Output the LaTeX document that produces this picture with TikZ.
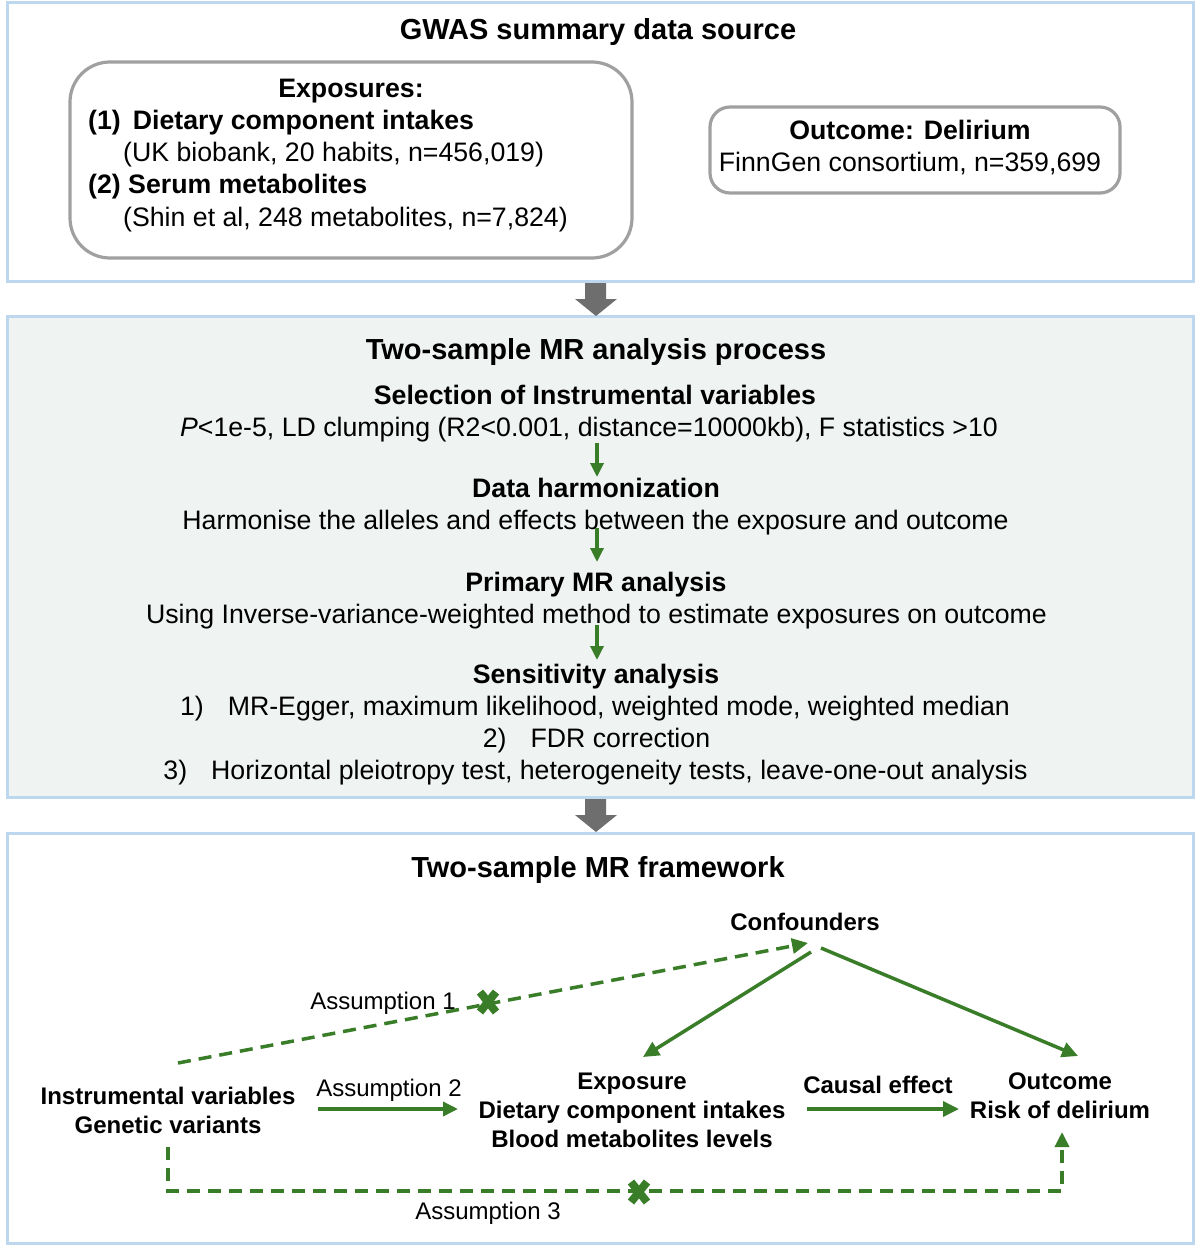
\documentclass[tikz,border=0pt]{standalone}
\usepackage{fontspec}
\setmainfont{Liberation Sans}
\usetikzlibrary{arrows.meta}
\definecolor{panelborder}{RGB}{189,215,238}
\definecolor{panelfill}{RGB}{239,243,242}
\definecolor{mrgreen}{RGB}{58,125,40}
\definecolor{boxgray}{RGB}{160,160,160}
\definecolor{bigarrow}{RGB}{110,110,110}
\tikzset{
  panel/.style={draw=panelborder, line width=3pt},
  titletxt/.style={inner sep=0pt, anchor=base, font=\bfseries\fontsize{29}{34}\selectfont},
  headtxt/.style={inner sep=0pt, anchor=base, font=\bfseries\fontsize{26.7}{32}\selectfont},
  bodytxt/.style={inner sep=0pt, anchor=base, font=\fontsize{26.7}{32}\selectfont},
  fwbold/.style={inner sep=0pt, anchor=base, font=\bfseries\fontsize{24}{29}\selectfont},
  fwtxt/.style={inner sep=0pt, anchor=base, font=\fontsize{24}{29}\selectfont},
  grayarrow/.style={fill=bigarrow, draw=none},
  flowarrow/.style={draw=mrgreen, line width=3.3pt, -{Triangle[length=14pt,width=13pt]}},
  fwarrow/.style={draw=mrgreen, line width=3.5pt, -{Triangle[length=16pt,width=15pt]}},
  dasharrow/.style={draw=mrgreen, line width=3.5pt, dash pattern=on 13pt off 8pt},
  crossmark/.style={draw=mrgreen, line width=8pt},
}
\begin{document}
\begin{tikzpicture}[x=1pt,y=-1pt]
\useasboundingbox (0,0) rectangle (1200,1249);
% panels
\draw[panel, fill=white] (7,3) rectangle (1193,281);
\draw[panel, fill=panelfill] (7,316) rectangle (1193,797);
\draw[panel, fill=white] (7,833) rectangle (1193,1243);
% big gray arrows
\fill[grayarrow] (585,283) -- (606,283) -- (606,299) -- (617,299) -- (596,316) -- (575,299) -- (585,299) -- cycle;
\fill[grayarrow] (585,799) -- (606,799) -- (606,815) -- (617,815) -- (596,832) -- (575,815) -- (585,815) -- cycle;

% ---------- panel 1 ----------
\node[titletxt] (t1) at (598,40) {GWAS summary data source};
\draw[draw=boxgray, line width=3.2pt, rounded corners=40pt] (70,62) rectangle (632,258);
\node[headtxt] (exph) at (351,98) {Exposures:};
\node[headtxt, anchor=base west] (exp1) at (88,130) {(1)\hspace{0.45em}Dietary component intakes};
\node[bodytxt, anchor=base west] (exp1s) at (123,162) {(UK biobank, 20 habits, n=456,019)};
\node[headtxt, anchor=base west] (exp2) at (88,194) {(2) Serum metabolites};
\node[bodytxt, anchor=base west] (exp2s) at (123,226) {(Shin et al, 248 metabolites, n=7,824)};
\draw[draw=boxgray, line width=3.2pt, rounded corners=20pt] (710,107) rectangle (1120,193);
\node[headtxt] (outh) at (910,140) {Outcome: Delirium};
\node[bodytxt] (outs) at (910,172) {FinnGen consortium, n=359,699};

% ---------- panel 2 ----------
\node[titletxt] (t2) at (596,359) {Two-sample MR analysis process};
\node[headtxt] (s1h) at (595,404) {Selection of Instrumental variables};
\node[bodytxt] (s1b) at (589,436) {\textit{P}<1e-5, LD clumping (R2<0.001, distance=10000kb), F statistics >10};
\node[headtxt] (s2h) at (596,497) {Data harmonization};
\node[bodytxt] (s2b) at (595.5,529) {Harmonise the alleles and effects between the exposure and outcome};
\node[headtxt] (s3h) at (596,591) {Primary MR analysis};
\node[bodytxt] (s3b) at (596.5,623) {Using Inverse-variance-weighted method to estimate exposures on outcome};
\node[headtxt] (s4h) at (596,683) {Sensitivity analysis};
\node[bodytxt] (s4a) at (595,715) {1)\hspace{0.9em}MR-Egger, maximum likelihood, weighted mode, weighted median};
\node[bodytxt] (s4b) at (596.5,747) {2)\hspace{0.9em}FDR correction};
\node[bodytxt] (s4c) at (595.5,779) {3)\hspace{0.9em}Horizontal pleiotropy test, heterogeneity tests, leave-one-out analysis};
\coordinate (a1s) at (597,443); \coordinate (a1e) at (597,477);
\coordinate (a2s) at (597,528); \coordinate (a2e) at (597,562);
\coordinate (a3s) at (597,625); \coordinate (a3e) at (597,660);
\draw[flowarrow] (a1s) -- (a1e);
\draw[flowarrow] (a2s) -- (a2e);
\draw[flowarrow] (a3s) -- (a3e);

% ---------- panel 3 ----------
\node[titletxt] (t3) at (598,877) {Two-sample MR framework};
\node[fwbold] (conf) at (805,930) {Confounders};
\node[fwbold] (iv1) at (168,1104) {Instrumental variables};
\node[fwbold] (iv2) at (168,1133) {Genetic variants};
\node[fwbold] (ex1) at (632,1089) {Exposure};
\node[fwbold] (ex2) at (632,1118) {Dietary component intakes};
\node[fwbold] (ex3) at (632,1147) {Blood metabolites levels};
\node[fwbold] (oc1) at (1060,1089) {Outcome};
\node[fwbold] (oc2) at (1060,1118) {Risk of delirium};
\node[fwbold] (ce) at (878,1093) {Causal effect};
\node[fwtxt] (as1) at (383,1009) {Assumption 1};
\node[fwtxt] (as2) at (389,1096) {Assumption 2};
\node[fwtxt] (as3) at (488,1219) {Assumption 3};

\coordinate (ivtop) at (178,1063);
\coordinate (conftipL) at (808,943);
\coordinate (confL) at (811,952);
\coordinate (exptip) at (643,1057);
\coordinate (confR) at (821,948);
\coordinate (outtip) at (1078,1056);
\coordinate (as2s) at (318,1109);
\coordinate (as2e) at (458,1109);
\coordinate (ces) at (807,1109);
\coordinate (cee) at (959,1109);
\coordinate (ivbot) at (168,1147);
\coordinate (corner1) at (168,1191);
\coordinate (corner2) at (1062,1191);
\coordinate (outbot) at (1062,1132);
\coordinate (x1) at (488,1002);
\coordinate (x2) at (639,1192);

\draw[dasharrow, -{Triangle[length=16pt,width=15pt]}] (ivtop) -- (conftipL);
\draw[fwarrow] (confL) -- (exptip);
\draw[fwarrow] (confR) -- (outtip);
\draw[fwarrow, -{Triangle[length=15pt,width=14pt]}] (as2s) -- (as2e);
\draw[fwarrow] (ces) -- (cee);
\draw[dasharrow, -{Triangle[length=15pt,width=14pt]}] (ivbot) -- (corner1) -- (corner2) -- (outbot);
\draw[crossmark] ([shift={(-8,-10)}]x1) -- ([shift={(8,10)}]x1);
\draw[crossmark] ([shift={(-8,10)}]x1) -- ([shift={(8,-10)}]x1);
\draw[crossmark] ([shift={(-8,-10)}]x2) -- ([shift={(8,10)}]x2);
\draw[crossmark] ([shift={(-8,10)}]x2) -- ([shift={(8,-10)}]x2);
\end{tikzpicture}
\end{document}
